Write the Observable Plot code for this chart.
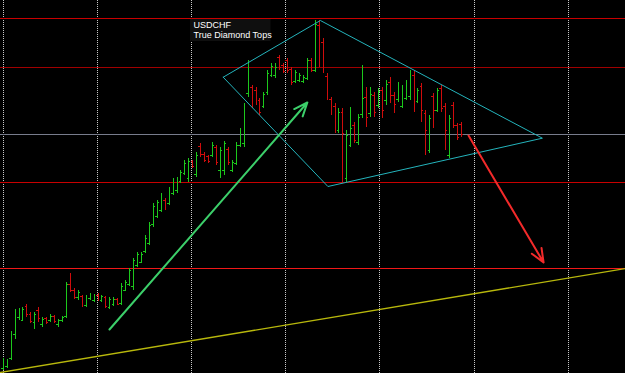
<!DOCTYPE html>
<html>
<head>
<meta charset="utf-8">
<script src="https://cdn.jsdelivr.net/npm/d3@7"></script>
<script src="https://cdn.jsdelivr.net/npm/@observablehq/plot@0.6"></script>
<style>
  html, body { margin: 0; padding: 0; background: #000; }
  #chart svg { display: block; }
</style>
</head>
<body>
<div id="chart"></div>
<script>
// ---- OHLC bars (USDCHF) ----
const high = [0.9442,0.9441,0.9469,0.9491,0.9492,0.9493,0.9496,0.9488,0.9488,0.9493,
  0.9483,0.9483,0.9486,0.9485,0.9481,0.9484,0.9518,0.9527,0.9512,0.9510,
  0.9505,0.9505,0.9507,0.9506,0.9507,0.9505,0.9504,0.9503,0.9503,0.9502,
  0.9517,0.9520,0.9532,0.9542,0.9548,0.9548,0.9565,0.9578,0.9597,0.9600,
  0.9607,0.9602,0.9613,0.9622,0.9623,0.9630,0.9640,0.9642,0.9640,0.9648,
  0.9657,0.9648,0.9645,0.9658,0.9655,0.9653,0.9659,0.9653,0.9640,0.9658,
  0.9672,0.9697,0.9740,0.9715,0.9713,0.9702,0.9708,0.9730,0.9737,0.9737,
  0.9745,0.9737,0.9742,0.9733,0.9730,0.9727,0.9725,0.9742,0.9742,0.9780,
  0.9780,0.9762,0.9727,0.9703,0.9697,0.9692,0.9692,0.9670,0.9693,0.9678,
  0.9686,0.9735,0.9713,0.9713,0.9708,0.9712,0.9713,0.9720,0.9723,0.9708,
  0.9718,0.9715,0.9720,0.9730,0.9730,0.9712,0.9717,0.9690,0.9685,0.9707,
  0.9712,0.9715,0.9697,0.9685,0.9698,0.9677,0.9678];
const low = [0.9430,0.9432,0.9440,0.9461,0.9480,0.9479,0.9483,0.9477,0.9471,0.9478,
  0.9473,0.9476,0.9478,0.9477,0.9473,0.9478,0.9482,0.9508,0.9501,0.9500,
  0.9493,0.9493,0.9500,0.9498,0.9499,0.9498,0.9492,0.9491,0.9494,0.9495,
  0.9495,0.9509,0.9514,0.9510,0.9533,0.9537,0.9547,0.9555,0.9573,0.9582,
  0.9588,0.9590,0.9595,0.9605,0.9607,0.9617,0.9625,0.9618,0.9632,0.9623,
  0.9643,0.9638,0.9637,0.9643,0.9635,0.9622,0.9625,0.9635,0.9628,0.9635,
  0.9653,0.9653,0.9703,0.9692,0.9695,0.9685,0.9692,0.9705,0.9723,0.9722,
  0.9730,0.9727,0.9727,0.9715,0.9717,0.9718,0.9717,0.9720,0.9728,0.9728,
  0.9733,0.9727,0.9700,0.9685,0.9667,0.9667,0.9617,0.9618,0.9653,0.9657,
  0.9655,0.9682,0.9673,0.9683,0.9683,0.9692,0.9682,0.9695,0.9697,0.9687,
  0.9698,0.9692,0.9700,0.9700,0.9688,0.9697,0.9678,0.9645,0.9647,0.9672,
  0.9688,0.9688,0.9650,0.9642,0.9672,0.9660,0.9663];
const open = [0.9432,0.9434,0.9442,0.9466,0.9483,0.9480,0.9494,0.9486,0.9478,0.9490,
  0.9476,0.9482,0.9480,0.9484,0.9476,0.9480,0.9484,0.9516,0.9510,0.9503,
  0.9504,0.9495,0.9502,0.9500,0.9505,0.9500,0.9503,0.9493,0.9496,0.9501,
  0.9497,0.9510,0.9516,0.9514,0.9535,0.9538,0.9549,0.9557,0.9576,0.9584,
  0.9590,0.9600,0.9597,0.9607,0.9610,0.9619,0.9627,0.9622,0.9639,0.9626,
  0.9654,0.9646,0.9644,0.9645,0.9653,0.9630,0.9630,0.9651,0.9630,0.9637,
  0.9655,0.9657,0.9707,0.9713,0.9710,0.9700,0.9694,0.9708,0.9725,0.9725,
  0.9743,0.9735,0.9740,0.9731,0.9719,0.9720,0.9719,0.9722,0.9740,0.9730,
  0.9775,0.9758,0.9724,0.9701,0.9694,0.9670,0.9688,0.9622,0.9655,0.9675,
  0.9658,0.9686,0.9703,0.9687,0.9705,0.9695,0.9710,0.9700,0.9718,0.9705,
  0.9701,0.9694,0.9702,0.9704,0.9725,0.9699,0.9714,0.9687,0.9650,0.9704,
  0.9690,0.9712,0.9694,0.9645,0.9695,0.9675,0.9676];
const close = [0.9440,0.9439,0.9467,0.9488,0.9490,0.9491,0.9486,0.9479,0.9486,0.9482,
  0.9481,0.9478,0.9484,0.9479,0.9480,0.9483,0.9516,0.9510,0.9503,0.9508,
  0.9495,0.9503,0.9505,0.9504,0.9501,0.9504,0.9494,0.9501,0.9501,0.9496,
  0.9514,0.9518,0.9530,0.9540,0.9546,0.9546,0.9562,0.9575,0.9594,0.9598,
  0.9605,0.9593,0.9611,0.9619,0.9620,0.9628,0.9637,0.9639,0.9634,0.9645,
  0.9646,0.9640,0.9639,0.9655,0.9638,0.9650,0.9657,0.9638,0.9638,0.9655,
  0.9670,0.9694,0.9737,0.9695,0.9700,0.9688,0.9706,0.9727,0.9734,0.9733,
  0.9733,0.9729,0.9730,0.9718,0.9728,0.9725,0.9723,0.9740,0.9730,0.9776,
  0.9738,0.9732,0.9703,0.9689,0.9673,0.9688,0.9667,0.9665,0.9672,0.9660,
  0.9683,0.9702,0.9683,0.9706,0.9688,0.9709,0.9690,0.9716,0.9705,0.9696,
  0.9715,0.9712,0.9717,0.9727,0.9700,0.9710,0.9690,0.9670,0.9682,0.9690,
  0.9710,0.9692,0.9670,0.9682,0.9675,0.9663,0.9666];

// ---- chart objects (bar index, price) ----
const gridBars = [0, 23.8, 47.6, 71.5, 95.3, 119.2, 143.0];
const redLevels = [0.9782, 0.9618];
const darkRedLevel = [0.9733];
const lowerRedLevel = [0.9532];
const grayLevel = [0.9666];
const trendX = [-0.7, 157.6];
const trendY = [0.9428, 0.9532];
const diamondX = [55.7, 80.3, 136.5, 82.2, 55.7];
const diamondY = [0.97233, 0.9780, 0.96623, 0.9614, 0.97233];
const arrowUp = {x1: 26.9, y1: 0.9471, x2: 77.0, y2: 0.9698};
const arrowDown = {x1: 117.8, y1: 0.9665, x2: 136.8, y2: 0.9538};
const titleLines = ["USDCHF", "True Diamond Tops"];
const titleX = 48.2;
const titleY = [0.97784, 0.9769];
const titleBox = {x1: 47.4, x2: 67.8, y1: 0.9759, y2: 0.9781};

const bars = high.map((h, i) => ({i, hi: h, lo: low[i], op: open[i], cl: close[i], up: close[i] >= open[i]}));
const upBars = bars.filter(d => d.up);
const downBars = bars.filter(d => !d.up);
const GREEN = "#1cc81c", RED = "#d00c0c";
const trend = trendX.map((x, k) => ({x, y: trendY[k]}));
const diamond = diamondX.map((x, k) => ({x, y: diamondY[k]}));
const titles = titleLines.map((t, k) => ({t, x: titleX, y: titleY[k]}));

function barMarks(data, color) {
  return [
    Plot.ruleX(data, {x: "i", y1: "lo", y2: "hi", stroke: color, strokeWidth: 1, shapeRendering: "crispEdges"}),
    Plot.ruleY(data, {y: "op", x1: d => d.i - 0.45, x2: "i", stroke: color, strokeWidth: 1, shapeRendering: "crispEdges"}),
    Plot.ruleY(data, {y: "cl", x1: "i", x2: d => d.i + 0.45, stroke: color, strokeWidth: 1, shapeRendering: "crispEdges"})
  ];
}

const chart = Plot.plot({
  width: 625,
  height: 373,
  margin: 0,
  style: {background: "#000", color: "#fff", overflow: "visible"},
  x: {domain: [-0.684, 157.54], axis: null},
  y: {domain: [0.9427, 0.98], axis: null},
  marks: [
    Plot.ruleX(gridBars, {stroke: "#c8c8c8", strokeDasharray: "1,1", strokeWidth: 1, shapeRendering: "crispEdges"}),
    Plot.rect([titleBox], {x1: "x1", x2: "x2", y1: "y1", y2: "y2", fill: "#0f0f0f"}),
    Plot.ruleY(redLevels, {stroke: "#c80000", strokeWidth: 1, shapeRendering: "crispEdges"}),
    Plot.ruleY(darkRedLevel, {stroke: "#a00000", strokeWidth: 1, shapeRendering: "crispEdges"}),
    Plot.ruleY(lowerRedLevel, {stroke: "#f01818", strokeWidth: 1, shapeRendering: "crispEdges"}),
    Plot.ruleY(grayLevel, {stroke: "#787c8c", strokeWidth: 1, shapeRendering: "crispEdges"}),
    Plot.line(trend, {x: "x", y: "y", stroke: "#b8b80c", strokeWidth: 1.3}),
    ...barMarks(upBars, GREEN),
    ...barMarks(downBars, RED),
    Plot.line(diamond, {x: "x", y: "y", stroke: "#24b4bc", strokeWidth: 1}),
    Plot.arrow([arrowUp], {x1: "x1", y1: "y1", x2: "x2", y2: "y2", stroke: "#3ccf6a", strokeWidth: 2, headLength: 11, headAngle: 45}),
    Plot.arrow([arrowDown], {x1: "x1", y1: "y1", x2: "x2", y2: "y2", stroke: "#f22a2a", strokeWidth: 2, headLength: 11, headAngle: 45}),
    Plot.text(titles, {x: "x", y: "y", text: "t", fill: "#fff", textAnchor: "start", lineAnchor: "top", fontSize: 9, fontFamily: "Liberation Sans, Arial, sans-serif"})
  ]
});
document.getElementById("chart").appendChild(chart);
</script>
</body>
</html>
